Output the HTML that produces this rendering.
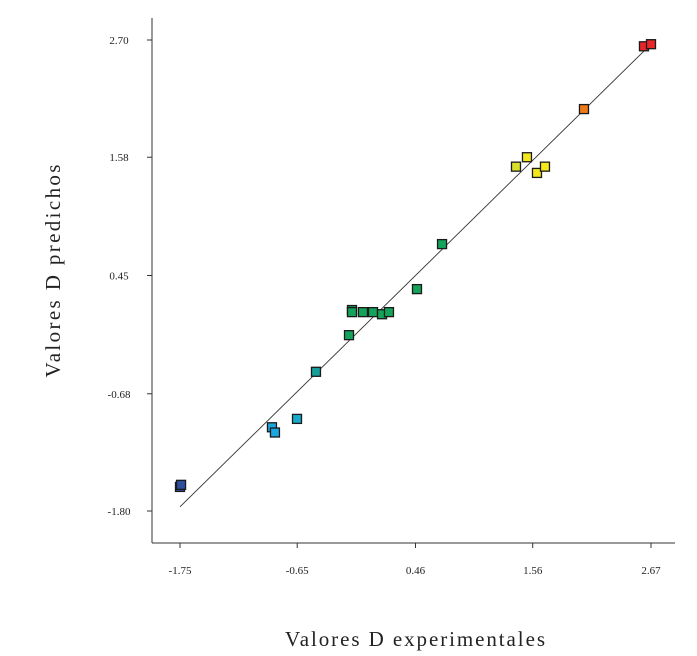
<!DOCTYPE html>
<html><head><meta charset="utf-8"><style>
body{margin:0;background:#fff;}
svg{display:block;font-family:"Liberation Serif",serif;}
</style></head><body>
<svg id="chart" width="697" height="656">
<g id="axes"></g><g id="marks"></g>
<text x="415" y="646" text-anchor="middle" font-size="21" fill="#222" textLength="260" lengthAdjust="spacing">Valores D experimentales</text>
<text transform="translate(60,271) rotate(-90)" text-anchor="middle" font-size="21" fill="#222" textLength="213" lengthAdjust="spacing">Valores D predichos</text>
</svg>
<script>
const xTicks=[-1.75,-0.65,0.46,1.56,2.67];
const yTicks=[-1.80,-0.68,0.45,1.58,2.70];
const xVals=[-1.75,-1.74,-0.887,-0.859,-0.652,-0.474,-0.164,-0.136,-0.136,-0.033,0.061,0.146,0.211,0.474,0.709,1.403,1.506,1.60,1.675,2.041,2.604,2.67];
const yVals=[-1.57,-1.55,-1.00,-1.05,-0.92,-0.47,-0.12,0.12,0.10,0.10,0.10,0.08,0.10,0.32,0.75,1.49,1.58,1.43,1.49,2.04,2.64,2.66];
const colors=["#2e4fa0","#2e4fa0","#1ba6e0","#1ba6e0","#17a9c8","#169e9a","#13a35a","#13a35a","#13a35a","#13a35a","#13a35a","#13a35a","#13a35a","#13a35a","#13a35a","#d8e02a","#f5e81a","#f5e81a","#f5e81a","#ee7a1a","#e8262a","#e8262a"];
const NS="http://www.w3.org/2000/svg";
const X=v=>180+(v+1.75)*(471/4.42);
const Y=v=>511-(v+1.8)*(471/4.5);
const ax=document.getElementById('axes'),mk=document.getElementById('marks');
function el(t,a,p){const e=document.createElementNS(NS,t);for(const k in a)e.setAttribute(k,a[k]);p.appendChild(e);return e;}
let l=el('line',{x1:152,y1:18,x2:152,y2:543,stroke:'#333','stroke-width':1},ax);


l=el('line',{x1:152,y1:543,x2:675,y2:543,stroke:'#333','stroke-width':1},ax);


xTicks.forEach(v=>{
 el('line',{x1:X(v),y1:543,x2:X(v),y2:548,stroke:'#333'},ax);
 const t=el('text',{x:X(v),y:574,'text-anchor':'middle','font-size':11,fill:'#222'},ax);t.textContent=v.toFixed(2);
 
 
});
yTicks.forEach(v=>{
 el('line',{x1:147,y1:Y(v),x2:152,y2:Y(v),stroke:'#333'},ax);
 const t=el('text',{x:119,y:Y(v)+4,'text-anchor':'middle','font-size':11,fill:'#222'},ax);t.textContent=v.toFixed(2);
 
 
});
l=el('line',{x1:X(-1.75),y1:Y(-1.76),x2:X(2.67),y2:Y(2.66),stroke:'#333','stroke-width':0.9},mk);


xVals.forEach((v,i)=>{
 const r=el('rect',{x:X(v)-4.5,y:Y(yVals[i])-4.5,width:9,height:9,fill:colors[i],stroke:'#1a1a1a','stroke-width':1.3},mk);
 
 
});
</script>
</body></html>
